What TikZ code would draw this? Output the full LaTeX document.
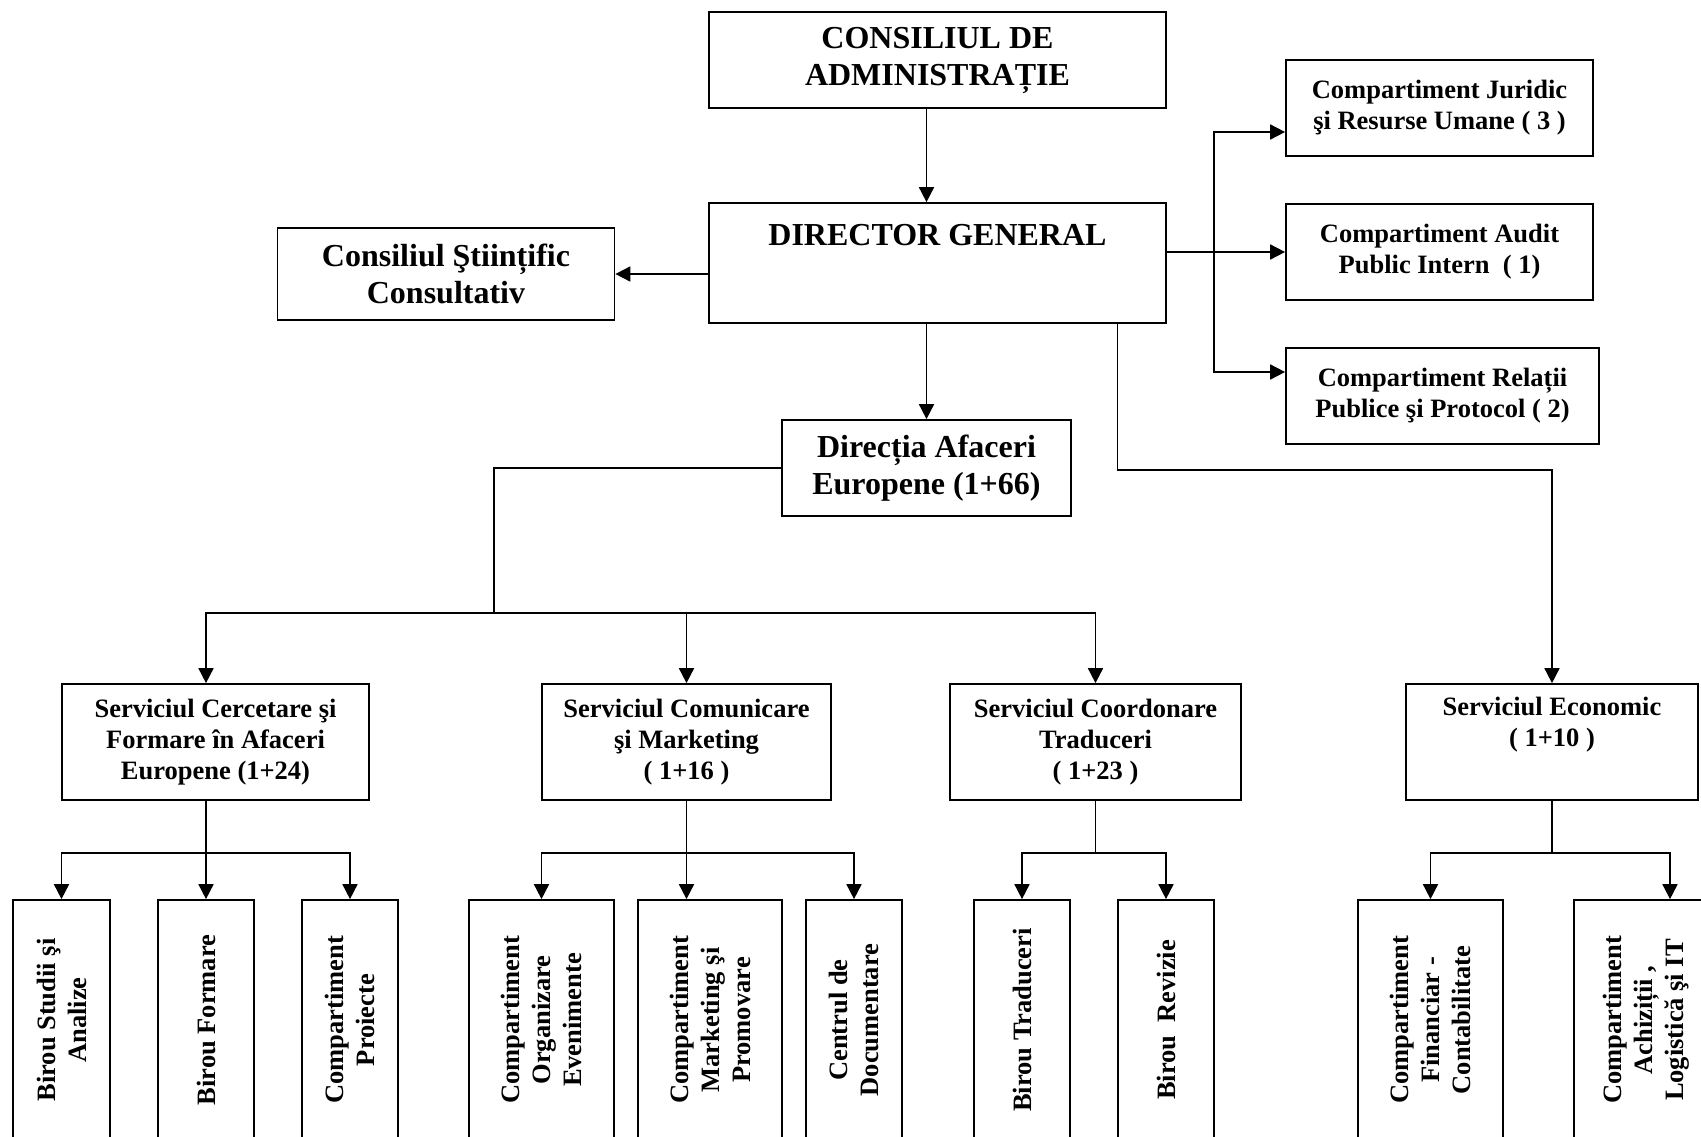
\documentclass[tikz,border=0pt]{standalone}
\usepackage{fontspec}
\setmainfont{Liberation Serif}
\usetikzlibrary{arrows.meta, positioning}
\tikzset{
    head/.style={rectangle, draw=black, line width=1.7pt, align=center, font=\fontsize{32}{37}\selectfont\bfseries},
    office/.style={rectangle, draw=black, line width=1.7pt, align=center, font=\fontsize{26.5}{31}\selectfont\bfseries},
    unit/.style={office, rotate=90, minimum width=240pt},
    arrow/.style={line width=1.7pt, -{Triangle[length=15pt,width=15pt]}},
    link/.style={line width=1.7pt}
}

\begin{document}
\begin{tikzpicture}[x=1pt, y=-1pt]
    \useasboundingbox (0,0) rectangle (1701,1136);
    % top level
    \node (ca) [head, minimum width=457pt, minimum height=96pt] at (937.5,60) {CONSILIUL DE\\ADMINISTRAȚIE};
    \node (dg) [head, minimum width=457pt, minimum height=120pt, text height=22pt, text depth=58pt] at (937.5,263) {DIRECTOR GENERAL};
    \node (csc) [head, minimum width=337pt, minimum height=92pt] at (446,274) {Consiliul Ştiințific\\Consultativ};
    \node (dae) [head, minimum width=289pt, minimum height=96pt] at (926.5,468) {Direcția Afaceri\\Europene (1+66)};
    % compartments beside the director
    \node (cju) [office, minimum width=307pt, minimum height=96pt] at (1439.5,108) {Compartiment Juridic\\şi Resurse Umane ( 3 )};
    \node (cau) [office, minimum width=307pt, minimum height=96pt] at (1439.5,252) {Compartiment Audit\\Public Intern~ ( 1)};
    \node (cr) [office, minimum width=313pt, minimum height=96pt] at (1442.5,396) {Compartiment Relații\\Publice şi Protocol ( 2)};
    % services
    \node (scfae) [office, minimum width=307pt, minimum height=116pt] at (215.5,742) {Serviciul Cercetare şi\\Formare în Afaceri\\Europene (1+24)};
    \node (scm) [office, minimum width=289pt, minimum height=116pt] at (686.5,742) {Serviciul Comunicare\\şi Marketing\\( 1+16 )};
    \node (sct) [office, minimum width=291pt, minimum height=116pt] at (1095.5,742) {Serviciul Coordonare\\Traduceri\\( 1+23 )};
    \node (se) [office, minimum width=292pt, minimum height=116pt] at (1552,742) {Serviciul Economic\\( 1+10 )\\\strut};
    % offices and compartments
    \node (b1) [unit, minimum height=97pt] at (61.5,1020) {Birou Studii şi\\Analize};
    \node (b2) [unit, minimum height=96pt] at (206,1020) {Birou Formare};
    \node (b3) [unit, minimum height=96pt] at (350,1020) {Compartiment\\Proiecte};
    \node (b4) [unit, minimum height=145pt] at (541.5,1020) {Compartiment\\Organizare\\Evenimente};
    \node (b5) [unit, minimum height=144pt] at (710,1020) {Compartiment\\Marketing şi\\Promovare};
    \node (b6) [unit, minimum height=96pt] at (854,1020) {Centrul de\\Documentare};
    \node (b7) [unit, minimum height=96pt] at (1022,1020) {Birou Traduceri};
    \node (b8) [unit, minimum height=96pt] at (1166,1020) {Birou~ Revizie};
    \node (b9) [unit, minimum height=145pt] at (1430.5,1020) {Compartiment\\Financiar -\\Contabilitate};
    \node (b10) [unit, minimum height=145pt] at (1646.5,1020) {Compartiment\\Achiziții ,\\Logistică şi IT};

    \draw [arrow] (dae.north |- ca.south) -- (dae.north |- dg.north);
    \draw [arrow] (dg.west |- csc) -- (csc);
    \draw [arrow] (dg.east |- cau) -- (cau);
    \coordinate (rbus) at (1214,252);
    \draw [arrow] (rbus) |- ([yshift=-24pt]cju.west);
    \draw [arrow] (rbus) |- ([yshift=24pt]cr.west);
    \draw [arrow] (dae.north |- dg.south) -- (dae);
    \draw [arrow] ([xshift=180pt]dg.south) -- ++(0,146) -| (se);

    \draw [link] (dae.west) -- ++(-287,0) -- ++(0,145) coordinate (busA);
    \draw [arrow] (busA) -| ([xshift=-9.5pt]scfae.north);
    \draw [arrow] (busA) -| (scm);
    \draw [arrow] (busA) -| (sct);

    \draw [link] ([xshift=-9.5pt]scfae.south) -- ++(0,52) coordinate (busB);
    \foreach \u in {b1,b2,b3}
        \draw [arrow] (busB) -| (\u);
    \draw [link] (scm.south) -- ++(0,52) coordinate (busC);
    \draw [arrow] (busC) -| (b4);
    \draw [arrow] (busC) -- (busC |- b5.east);
    \draw [arrow] (busC) -| (b6);
    \draw [link] (sct.south) -- ++(0,52) coordinate (busD);
    \draw [arrow] (busD) -| (b7);
    \draw [arrow] (busD) -| (b8);
    \draw [link] (se.south) -- ++(0,52) coordinate (busE);
    \draw [arrow] (busE) -| (b9);
    \draw [arrow] (busE) -| ([xshift=23.5pt]b10.east);
\end{tikzpicture}
\end{document}
